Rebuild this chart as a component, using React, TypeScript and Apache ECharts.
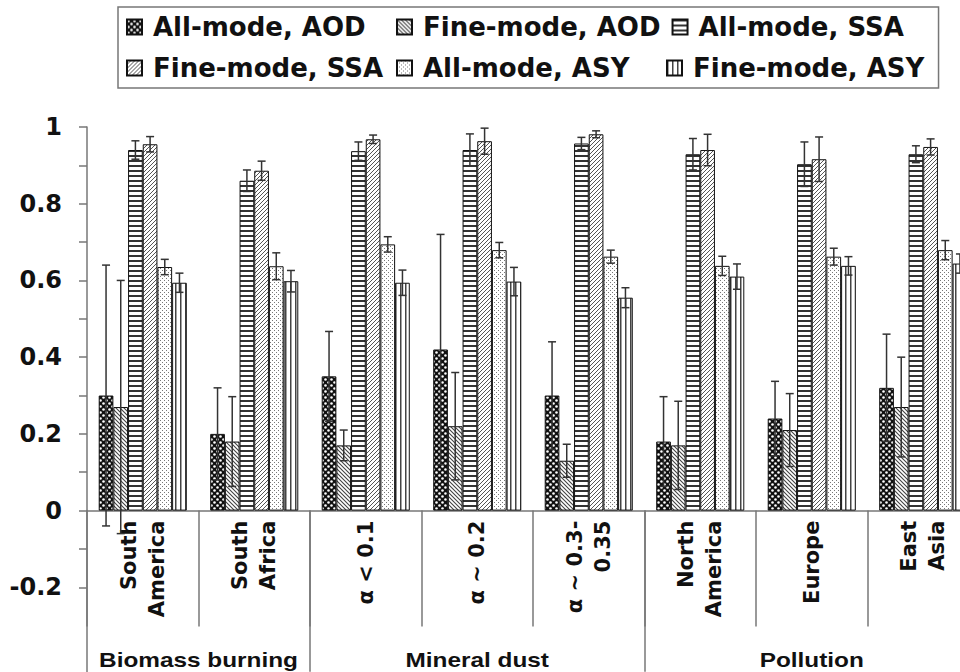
import { useEffect, useRef } from 'react';
import * as echarts from 'echarts';

const categories = ['South\nAmerica', 'South\nAfrica', 'α < 0.1', 'α ~ 0.2', 'α ~ 0.3-\n0.35', 'North\nAmerica', 'Europe', 'East\nAsia'];
const groupNames = ['Biomass burning', 'Mineral dust', 'Pollution'];
const groupSizes = [2, 3, 3];
const seriesNames = ['All-mode, AOD', 'Fine-mode, AOD', 'All-mode, SSA', 'Fine-mode, SSA', 'All-mode, ASY', 'Fine-mode, ASY'];

const aodAll = [0.30, 0.20, 0.35, 0.42, 0.30, 0.18, 0.24, 0.32];
const aodAllErr = [0.34, 0.12, 0.117, 0.30, 0.14, 0.117, 0.097, 0.14];
const aodFine = [0.27, 0.18, 0.17, 0.22, 0.13, 0.17, 0.21, 0.27];
const aodFineErr = [0.33, 0.117, 0.04, 0.14, 0.043, 0.115, 0.095, 0.13];
const ssaAll = [0.94, 0.86, 0.937, 0.94, 0.957, 0.929, 0.903, 0.929];
const ssaAllErr = [0.024, 0.028, 0.024, 0.042, 0.016, 0.041, 0.058, 0.022];
const ssaFine = [0.955, 0.886, 0.968, 0.963, 0.981, 0.94, 0.916, 0.948];
const ssaFineErr = [0.02, 0.025, 0.011, 0.034, 0.009, 0.041, 0.058, 0.021];
const asyAll = [0.635, 0.637, 0.694, 0.679, 0.662, 0.638, 0.662, 0.679];
const asyAllErr = [0.02, 0.035, 0.02, 0.02, 0.017, 0.025, 0.022, 0.025];
const asyFine = [0.594, 0.598, 0.594, 0.597, 0.555, 0.61, 0.638, 0.644];
const asyFineErr = [0.025, 0.028, 0.033, 0.037, 0.026, 0.033, 0.024, 0.025];

// positive part of the value axis and its negative extension below the category axis
const yTickValuesUpper = [0, 0.1, 0.2, 0.3, 0.4, 0.5, 0.6, 0.7, 0.8, 0.9, 1];
const yLabelValuesUpper = [0, 0.2, 0.4, 0.6, 0.8, 1];
const yTickValuesLower = [-0.2, -0.1];
const yLabelValuesLower = [-0.2];
const Y_MAX = 1;
const Y_MIN = -0.42;

const values = [aodAll, aodFine, ssaAll, ssaFine, asyAll, asyFine];
const errors = [aodAllErr, aodFineErr, ssaAllErr, ssaFineErr, asyAllErr, asyFineErr];

const CAT_GAP = 0.21;

function makePattern(kind: number): HTMLCanvasElement {
  const c = document.createElement('canvas');
  const ctx = c.getContext('2d')!;
  if (kind === 0) {
    c.width = 6; c.height = 6;
    ctx.fillStyle = '#111'; ctx.fillRect(0, 0, 6, 6);
    ctx.fillStyle = '#fff';
    ctx.beginPath(); ctx.arc(1.5, 1.5, 1.3, 0, Math.PI * 2); ctx.fill();
    ctx.beginPath(); ctx.arc(4.5, 4.5, 1.3, 0, Math.PI * 2); ctx.fill();
  } else if (kind === 1) {
    c.width = 4; c.height = 4;
    ctx.fillStyle = '#fff'; ctx.fillRect(0, 0, 4, 4);
    ctx.strokeStyle = '#444'; ctx.lineWidth = 1.1;
    ctx.beginPath();
    ctx.moveTo(-1, -1); ctx.lineTo(5, 5);
    ctx.moveTo(-1, 3); ctx.lineTo(1, 5);
    ctx.moveTo(3, -1); ctx.lineTo(5, 1);
    ctx.stroke();
  } else if (kind === 2) {
    c.width = 5; c.height = 5;
    ctx.fillStyle = '#fff'; ctx.fillRect(0, 0, 5, 5);
    ctx.fillStyle = '#333'; ctx.fillRect(0, 0, 5, 2);
  } else if (kind === 3) {
    c.width = 4; c.height = 4;
    ctx.fillStyle = '#fff'; ctx.fillRect(0, 0, 4, 4);
    ctx.strokeStyle = '#555'; ctx.lineWidth = 1;
    ctx.beginPath();
    ctx.moveTo(-1, 5); ctx.lineTo(5, -1);
    ctx.moveTo(-1, 1); ctx.lineTo(1, -1);
    ctx.moveTo(3, 5); ctx.lineTo(5, 3);
    ctx.stroke();
  } else if (kind === 4) {
    c.width = 4; c.height = 4;
    ctx.fillStyle = '#fff'; ctx.fillRect(0, 0, 4, 4);
    ctx.fillStyle = '#777';
    ctx.fillRect(0, 0, 1, 1);
    ctx.fillRect(2, 2, 1, 1);
  } else {
    c.width = 5; c.height = 5;
    ctx.fillStyle = '#fff'; ctx.fillRect(0, 0, 5, 5);
    ctx.fillStyle = '#444'; ctx.fillRect(0, 0, 1.5, 5);
  }
  return c;
}

export default function App() {
  const ref = useRef<HTMLDivElement>(null);
  useEffect(() => {
    if (!ref.current) return;
    const chart = echarts.init(ref.current, undefined, { renderer: 'svg' });

    const TOP = 127;
    const PX_PER_UNIT = 383.6;
    const zeroY = TOP + Y_MAX * PX_PER_UNIT;
    const lowerH = -Y_MIN * PX_PER_UNIT;

    const barSeries = seriesNames.map((name, s) => ({
      name,
      type: 'bar',
      xAxisIndex: 0,
      yAxisIndex: 0,
      barGap: '0%',
      barCategoryGap: CAT_GAP * 100 + '%',
      data: values[s],
      itemStyle: {
        color: { image: makePattern(s), repeat: 'repeat' },
        borderColor: '#111',
        borderWidth: 1,
      },
      emphasis: { disabled: true },
    }));
    const errSeries = seriesNames.map((name, s) => ({
      name: name + ' err',
      type: 'custom',
      xAxisIndex: 0,
      yAxisIndex: 0,
      z: 5,
      clip: false,
      encode: { x: 0, y: [1, 2] },
      data: values[s].map((v, i) => [i, v - errors[s][i], v + errors[s][i]]),
      renderItem: (params: any, api: any) => {
        const ci = api.value(0);
        const lo = api.coord([ci, api.value(1)]);
        const hi = api.coord([ci, api.value(2)]);
        const band = api.size([1, 0])[0];
        const bw = (band * (1 - CAT_GAP)) / 6;
        const x = lo[0] + (s - 2.5) * bw;
        const cap = 4;
        const st = { stroke: '#333', lineWidth: 1.5 };
        return {
          type: 'group',
          children: [
            { type: 'line', shape: { x1: x, y1: hi[1], x2: x, y2: lo[1] }, style: st },
            { type: 'line', shape: { x1: x - cap, y1: hi[1], x2: x + cap, y2: hi[1] }, style: st },
            { type: 'line', shape: { x1: x - cap, y1: lo[1], x2: x + cap, y2: lo[1] }, style: st },
          ],
        };
      },
    }));

    const boundaries: number[] = [];
    let acc = 0;
    groupSizes.forEach((g) => { acc += g; boundaries.push(acc); });
    const innerBoundaries = boundaries.slice(0, -1);

    const axisGray = { color: '#777', width: 1.5 };
    const tickFont = { fontFamily: 'DejaVu Sans', fontWeight: 'bold', fontSize: 24, color: '#111' };

    chart.setOption({
      animation: false,
      backgroundColor: '#fff',
      legend: {
        data: seriesNames,
        left: 118,
        top: 7,
        width: 840,
        orient: 'horizontal',
        itemWidth: 15,
        itemHeight: 15,
        itemGap: 11,
        padding: [5, 8, 5, 8],
        borderColor: '#777',
        borderWidth: 1.5,
        backgroundColor: '#fff',
        icon: 'rect',
        selectedMode: false,
        textStyle: {
          fontFamily: 'DejaVu Sans',
          fontWeight: 'bold',
          fontSize: 26,
          color: '#111',
          width: 232,
          lineHeight: 30,
          padding: [0, 0, 0, 6],
        },
      },
      grid: [
        { left: 87, right: -19, top: TOP, height: zeroY - TOP, containLabel: false, outerBoundsMode: 'none' },
        { left: 87, right: -19, top: zeroY, height: lowerH, containLabel: false, outerBoundsMode: 'none' },
      ],
      xAxis: [
        {
          type: 'category',
          gridIndex: 0,
          data: categories,
          position: 'bottom',
          boundaryGap: true,
          axisLine: { onZero: false, lineStyle: axisGray },
          axisTick: { show: true, interval: 0, length: 116, lineStyle: axisGray },
          axisLabel: {
            interval: 0,
            rotate: 90,
            margin: 10,
            fontFamily: 'DejaVu Sans',
            fontWeight: 'bold',
            fontSize: 21,
            lineHeight: 28,
            color: '#111',
          },
          splitLine: { show: false },
        },
        {
          type: 'category',
          gridIndex: 1,
          data: categories,
          position: 'bottom',
          boundaryGap: true,
          axisLine: { show: false, onZero: false },
          axisTick: {
            show: true,
            inside: true,
            length: lowerH,
            interval: (i: number) => innerBoundaries.includes(i),
            lineStyle: axisGray,
          },
          axisLabel: { show: false },
          splitLine: { show: false },
        },
      ],
      yAxis: [
        {
          type: 'value',
          gridIndex: 0,
          min: 0,
          max: Y_MAX,
          axisLine: { show: true, onZero: false, lineStyle: axisGray },
          axisTick: { show: true, length: 8, customValues: yTickValuesUpper, lineStyle: axisGray },
          axisLabel: {
            customValues: yLabelValuesUpper,
            margin: 25,
            ...tickFont,
            formatter: (v: number) => String(Math.round(v * 10) / 10),
          },
          splitLine: { show: false },
        },
        {
          type: 'value',
          gridIndex: 1,
          min: Y_MIN,
          max: 0,
          axisLine: { show: true, onZero: false, lineStyle: axisGray },
          axisTick: { show: true, length: 8, customValues: yTickValuesLower, lineStyle: axisGray },
          axisLabel: {
            customValues: yLabelValuesLower,
            margin: 25,
            ...tickFont,
            formatter: (v: number) => String(Math.round(v * 10) / 10),
          },
          splitLine: { show: false },
        },
      ],
      series: [...barSeries, ...errSeries],
    });

    // group labels centred on their category spans, positions from the axis scale
    const p0 = chart.convertToPixel({ xAxisIndex: 0 }, 0) as number;
    const p1 = chart.convertToPixel({ xAxisIndex: 0 }, 1) as number;
    const bandW = p1 - p0;
    let start = 0;
    const texts = groupNames.map((g, gi) => {
      const first = start;
      const last = start + groupSizes[gi] - 1;
      start += groupSizes[gi];
      const cx = (p0 + first * bandW - bandW / 2 + p0 + last * bandW + bandW / 2) / 2;
      return {
        type: 'text',
        x: cx,
        y: 660,
        scaleX: 1.16,
        style: {
          text: g,
          fontFamily: 'Liberation Sans',
          fontWeight: 'bold',
          fontSize: 21,
          fill: '#111',
          align: 'center',
          verticalAlign: 'middle',
        },
      };
    });
    chart.setOption({ graphic: texts });

    return () => chart.dispose();
  }, []);
  return <div ref={ref} style={{ position: 'fixed', left: 0, top: 0, width: 960, height: 672 }} />;
}
